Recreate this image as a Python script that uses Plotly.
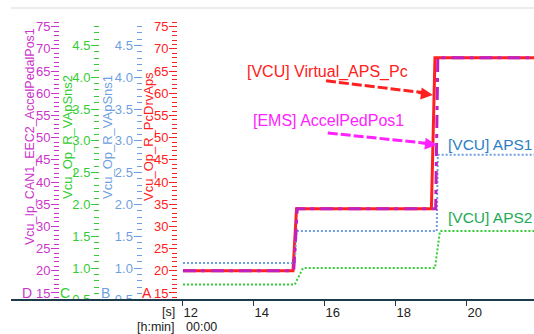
import plotly.graph_objects as go

# ---- signal data (time in s) ----
t_pc = [12.0, 15.1, 15.2, 19.0, 19.1, 22.0]
virtual_aps_pc = [20, 20, 34, 34, 68, 68]

t_ems = [12.0, 15.12, 15.22, 19.12, 19.18, 22.0]
accel_ped_pos1 = [20, 20, 34, 34, 68, 68]

t_aps1 = [12.0, 15.15, 15.2, 19.15, 19.18, 22.0]
aps1 = [1.08, 1.08, 1.58, 1.58, 2.78, 2.78]

t_aps2 = [12.0, 15.15, 15.38, 19.1, 19.24, 22.0]
aps2 = [0.74, 0.74, 1.0, 1.0, 1.58, 1.58]

x_ticks = [12, 14, 16, 18, 20]
x_ticktext = ["12", "14", "16", "18", "20"]

W, H = 534, 334
ML, MT, MB = 0, 8, 34
PLOT_H = H - MT - MB

RED = "#ff2020"
MAG_AX = "#cc33cc"
MAG_LINE = "#c020c0"
GRN = "#33cc33"
BLU = "#6f9fe0"
FONT = "Liberation Sans, Arial, sans-serif"


def px_x(p):
    return p / W


def px_y(p):
    return (H - MB - p) / PLOT_H


# value axes stop a little below the top frame line
Y_DOMAIN = [0, px_y(21)]

fig = go.Figure()

fig.add_trace(go.Scatter(x=t_aps2, y=aps2, yaxis="y3", mode="lines",
                         line=dict(color=GRN, width=2, dash="2px,2px"),
                         name="[VCU] APS2"))
fig.add_trace(go.Scatter(x=t_aps1, y=aps1, yaxis="y2", mode="lines",
                         line=dict(color=BLU, width=2, dash="2px,2px"),
                         name="[VCU] APS1"))
fig.add_trace(go.Scatter(x=t_pc, y=virtual_aps_pc, yaxis="y", mode="lines",
                         line=dict(color=RED, width=3),
                         name="[VCU] Virtual_APS_Pc"))
fig.add_trace(go.Scatter(x=t_ems, y=accel_ped_pos1, yaxis="y4", mode="lines",
                         line=dict(color=MAG_LINE, width=3, dash="13px,5px,4px,6px"),
                         name="[EMS] AccelPedPos1"))

pct_range = [13.42, 76.28]
volt_range = [0.497, 4.884]


def pct_axis(color, **kw):
    return dict(range=pct_range, domain=Y_DOMAIN, dtick=5, tick0=0,
                ticks="outside", ticklen=8, ticklabelstandoff=-2,
                tickwidth=1, tickcolor=color, showgrid=False, zeroline=False,
                showline=False, side="left",
                tickfont=dict(family=FONT, size=13, color=color),
                minor=dict(dtick=1, ticks="outside", ticklen=5, tickcolor=color,
                           tickwidth=1, showgrid=False),
                **kw)


def volt_axis(color, **kw):
    return dict(range=volt_range, domain=Y_DOMAIN, dtick=0.5, tick0=0,
                tickformat=".1f", ticklabelstandoff=-2,
                ticks="outside", ticklen=8, tickwidth=1, tickcolor=color,
                showgrid=False, zeroline=False, showline=False, side="left",
                tickfont=dict(family=FONT, size=13, color=color),
                minor=dict(dtick=0.1, ticks="outside", ticklen=5, tickcolor=color,
                           tickwidth=1, showgrid=False),
                **kw)


fig.update_layout(
    width=W, height=H,
    margin=dict(l=ML, r=0, t=MT, b=MB, pad=0),
    paper_bgcolor="white", plot_bgcolor="white",
    showlegend=False,
    font=dict(family=FONT, size=13),
    xaxis=dict(domain=[px_x(178), 1], range=[11.86, 21.89],
               tickvals=x_ticks, ticktext=x_ticktext,
               ticks="outside", ticklen=5, tickcolor="#1d3b4c",
               ticklabelposition="outside right",
               tickfont=dict(family=FONT, size=13, color="#222222"),
               showgrid=False, zeroline=False, showline=False),
    yaxis=pct_axis(RED, anchor="x"),
    yaxis2=volt_axis(BLU, anchor="free", overlaying="y", position=px_x(141.5)),
    yaxis3=volt_axis(GRN, anchor="free", overlaying="y", position=px_x(99)),
    yaxis4=pct_axis(MAG_AX, anchor="free", overlaying="y", position=px_x(59)),
)

shapes = [
    # frame line along the top
    dict(type="line", xref="paper", yref="paper", x0=px_x(11), x1=1, y0=1, y1=1,
         line=dict(color="#e6e6e6", width=1.5), layer="above"),
    # mask under the strip of left axes
    dict(type="rect", xref="paper", yref="paper", x0=0, x1=px_x(178),
         y0=0, y1=px_y(312), fillcolor="white", line=dict(width=0), layer="above"),
    # baseline of the time axis
    dict(type="line", xref="paper", yref="paper", x0=px_x(11), x1=1, y0=0, y1=0,
         line=dict(color="#1d3b4c", width=2), layer="above"),
    # dashed pointer shafts
    dict(type="line", xref="x", yref="y", x0=16.03, y0=62.8, x1=18.9, y1=60.0,
         line=dict(color=RED, width=3, dash="10px,3px"), layer="above"),
    dict(type="line", xref="x", yref="y", x0=16.08, y0=51.05, x1=19.02, y1=48.6,
         line=dict(color="#ff22ff", width=3, dash="10px,3px"), layer="above"),
]
fig.update_layout(shapes=shapes)

ann = []
# arrow heads
ann.append(dict(x=19.04, y=59.6, xref="x", yref="y", text="", showarrow=True,
                ax=-16, ay=-2.1, arrowhead=2, arrowsize=1.2, arrowwidth=2,
                arrowcolor=RED))
ann.append(dict(x=19.155, y=48.35, xref="x", yref="y", text="", showarrow=True,
                ax=-16, ay=-1.8, arrowhead=2, arrowsize=1.2, arrowwidth=2,
                arrowcolor="#ff22ff"))


# series labels
def label(text, x, y, color, anchor="center", size=16):
    ann.append(dict(text=text, x=px_x(x), y=px_y(y), xref="paper", yref="paper",
                    xanchor=anchor, yanchor="middle", showarrow=False,
                    font=dict(family=FONT, size=size, color=color)))


label("[VCU] Virtual_APS_Pc", 328, 72, RED)
label("[EMS] AccelPedPos1", 328.5, 120, "#ff22ff")
label("[VCU] APS1", 446, 144, "#2b7ec4", "left", 15.5)
label("[VCU] APS2", 446, 217, "#22aa55", "left", 15.5)


# axis titles
def vtitle(text, x, color, size=13):
    ann.append(dict(text=text, x=px_x(x), y=px_y(137), xref="paper", yref="paper",
                    xanchor="center", yanchor="middle", textangle=-90,
                    showarrow=False, font=dict(family=FONT, size=size, color=color)))


vtitle("Vcu_Ip_CAN1_EEC2_AccelPedalPos1", 30, MAG_AX, 12.5)
vtitle("Vcu_Op_R_VApSns2", 67, GRN)
vtitle("Vcu_Op_R_VApSns1", 107, BLU)
vtitle("Vcu_Op_R_PcDrvAps", 148, RED)


# axis letters
def letter(text, x, color):
    ann.append(dict(text=text, x=px_x(x), y=px_y(293), xref="paper", yref="paper",
                    xanchor="center", yanchor="middle", showarrow=False,
                    font=dict(family=FONT, size=14, color=color)))


letter("D", 27, MAG_AX)
letter("C", 65, GRN)
letter("B", 105, BLU)
letter("A", 147, RED)


# time axis unit labels
def small(text, x, y, anchor, size=13):
    ann.append(dict(text=text, x=px_x(x), y=px_y(y), xref="paper", yref="paper",
                    xanchor=anchor, yanchor="middle", showarrow=False,
                    font=dict(family=FONT, size=size, color="#222222")))


small("[s]", 177, 312, "right", 12.5)
small("[h:min]", 177, 327, "right", 12.5)
small("00:00", 184, 327, "left", 12.5)

fig.update_layout(annotations=ann)

fig.write_html("out.html")
